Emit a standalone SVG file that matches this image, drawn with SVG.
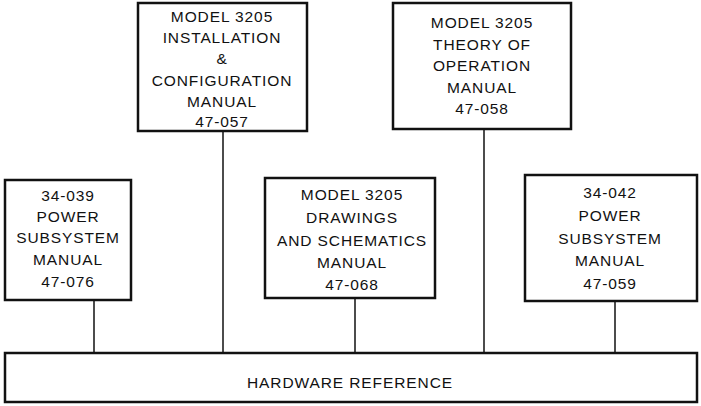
<svg xmlns="http://www.w3.org/2000/svg" width="701" height="406" viewBox="0 0 701 406">
<style>
.box{fill:#fff;stroke:#111;stroke-width:2.5}
.t{font-family:"Liberation Sans",Arial,sans-serif;font-size:15.5px;fill:#111;text-anchor:middle;letter-spacing:0.9px}
.c{stroke:#111;stroke-width:1.5;fill:none}
</style>
<rect width="701" height="406" fill="#fff"/>
<g id="connectors">
<line class="c" x1="94" y1="300" x2="94" y2="353"/>
<line class="c" x1="223" y1="131" x2="223" y2="353"/>
<line class="c" x1="355" y1="298" x2="355" y2="353"/>
<line class="c" x1="484" y1="129" x2="484" y2="353"/>
<line class="c" x1="615" y1="301" x2="615" y2="353"/>
</g>
<g id="install">
<rect class="box" x="138" y="3" width="169" height="128"/>
<text class="t" x="222" y="22">MODEL 3205</text>
<text class="t" x="222" y="43">INSTALLATION</text>
<text class="t" x="222" y="64">&amp;</text>
<text class="t" x="222" y="85.5">CONFIGURATION</text>
<text class="t" x="222" y="107">MANUAL</text>
<text class="t" x="222" y="127">47-057</text>
</g>
<g id="theory">
<rect class="box" x="393" y="3" width="178" height="126"/>
<text class="t" x="482" y="28">MODEL 3205</text>
<text class="t" x="482" y="49.5">THEORY OF</text>
<text class="t" x="482" y="71">OPERATION</text>
<text class="t" x="482" y="92.5">MANUAL</text>
<text class="t" x="482" y="114">47-058</text>
</g>
<g id="power1">
<rect class="box" x="5" y="180" width="126" height="120"/>
<text class="t" x="68" y="201">34-039</text>
<text class="t" x="68" y="222">POWER</text>
<text class="t" x="68" y="243">SUBSYSTEM</text>
<text class="t" x="68" y="265">MANUAL</text>
<text class="t" x="68" y="287">47-076</text>
</g>
<g id="drawings">
<rect class="box" x="265" y="178" width="170" height="120"/>
<text class="t" x="352" y="200">MODEL 3205</text>
<text class="t" x="352" y="223">DRAWINGS</text>
<text class="t" x="352" y="246">AND SCHEMATICS</text>
<text class="t" x="352" y="268">MANUAL</text>
<text class="t" x="352" y="290">47-068</text>
</g>
<g id="power2">
<rect class="box" x="525" y="175" width="172" height="126"/>
<text class="t" x="610" y="198">34-042</text>
<text class="t" x="610" y="221">POWER</text>
<text class="t" x="610" y="244">SUBSYSTEM</text>
<text class="t" x="610" y="266">MANUAL</text>
<text class="t" x="610" y="289">47-059</text>
</g>
<g id="hardware">
<rect class="box" x="5" y="353" width="692" height="49"/>
<text class="t" x="350" y="388">HARDWARE REFERENCE</text>
</g>
</svg>
